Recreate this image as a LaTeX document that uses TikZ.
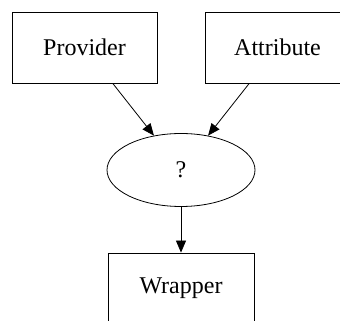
\documentclass[tikz,border=0pt]{standalone}
\usepackage{fontspec}
\setmainfont{Liberation Serif}
\usetikzlibrary{shapes.geometric, positioning, arrows.meta}
\tikzset{
	x=1pt, y=1pt,
	node distance=193pt,
	>={Triangle[length=12pt, width=10pt]},
	every node/.style={font=\fontsize{24}{28}\selectfont},
	box/.style={draw, thick, rectangle, minimum width=145pt, minimum height=71pt},
	query/.style={draw, thick, ellipse, minimum width=148pt, minimum height=73pt},
	link/.style={->, thick}}

\begin{document}
\begin{tikzpicture}
		\useasboundingbox (0,0) rectangle (340,321);
		\clip (0,0) rectangle (340,321);
		\node[box] (provider) at (84.5,273.5) {Provider};
		\node[box, right of=provider] (attribute) {Attribute};
		\node[query] (q) at (181,151) {?};
		\node[box, minimum width=146pt] (wrapper) at (181,32.5) {Wrapper};

		\draw
		(provider) edge[link] (q)
		(attribute) edge[link] (q)
		(q) edge[link] (wrapper)
		;
	\end{tikzpicture}
\end{document}
